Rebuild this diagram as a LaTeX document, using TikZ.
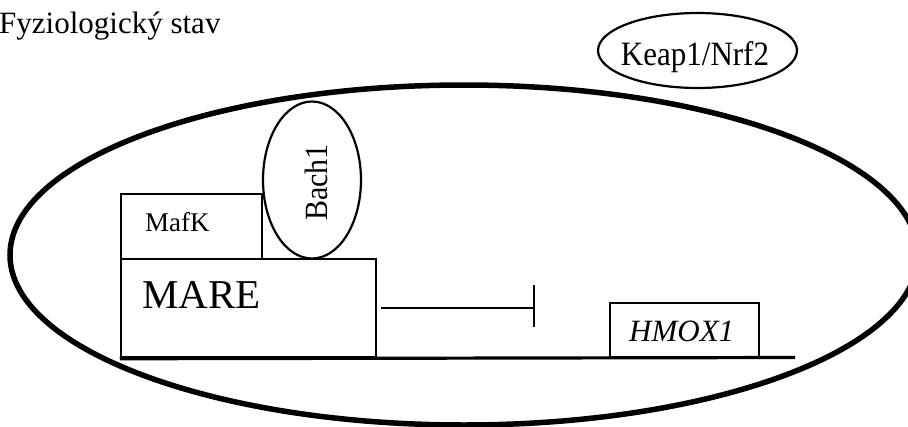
\documentclass[tikz,border=0pt]{standalone}
\usepackage{fontspec}
\setmainfont{Liberation Serif}
\usetikzlibrary{shapes.geometric,calc}

\tikzset{
  oval/.style={ellipse, draw, inner sep=0pt, line width=#1},
  oval/.default=2.2pt,
  boxnode/.style={rectangle, draw, inner sep=0pt, line width=2.5pt},
  txt/.style={inner sep=0pt, font=\fontsize{#1}{#1}\selectfont},
}

\begin{document}
\begin{tikzpicture}[x=1pt,y=-1pt]
  \clip (0,0) rectangle (908,426);
  \fill[white] (0,0) rectangle (908,426);

  % heading
  \node[txt=31, anchor=base west] (title) at (-1,33) {Fyziologický stav};

  % cell nucleus outline
  \node[oval=5.5pt, minimum width=908pt, minimum height=340pt] (cell) at (464,255) {};

  % Keap1/Nrf2 complex outside the nucleus
  \node[oval=2.2pt, minimum width=199pt, minimum height=75pt] (keap) at (697.5,50.5) {};
  \node[txt=31, anchor=base] (keaptext) at (695,65) {\scalebox{1}[1.1]{Keap1/Nrf2}};

  % promoter element and bound factors
  \node[boxnode, minimum width=141pt, minimum height=65pt] (mafk) at (191.5,226.5) {};
  \node[txt=27, anchor=base west] (mafktext) at (145,231.5) {MafK};

  \node[boxnode, minimum width=255pt, minimum height=98pt] (mare) at (248.5,308) {};
  \node[txt=41, anchor=base west] (maretext) at (142,308.5) {MARE};

  \node[oval, minimum width=98pt, minimum height=157pt] (bach) at (312,180) {};
  \node[txt=30, rotate=90] (bachtext) at (316,182.5) {\scalebox{1}[1.08]{Bach1}};

  % target gene
  \node[rectangle, draw, inner sep=0pt, line width=1.5pt,
        minimum width=149pt, minimum height=55pt] (hmox) at (684.5,330.5) {};
  \node[txt=31, anchor=base west, font=\fontsize{31}{31}\selectfont\itshape] (hmoxtext) at (629,341.7) {HMOX1};

  % DNA strand
  \coordinate (dnaend) at (795,357.5);
  \draw[line width=3.2pt] (mare.south west) ++(0,0.5) -- (dnaend);

  % repression of transcription
  \coordinate (stop) at (534,308);
  \draw[line width=2.8pt] ($(mare.east)+(4,0)$) -- (stop);
  \draw[line width=2.8pt] ($(stop)+(0,-23)$) -- ($(stop)+(0,19)$);
\end{tikzpicture}
\end{document}
